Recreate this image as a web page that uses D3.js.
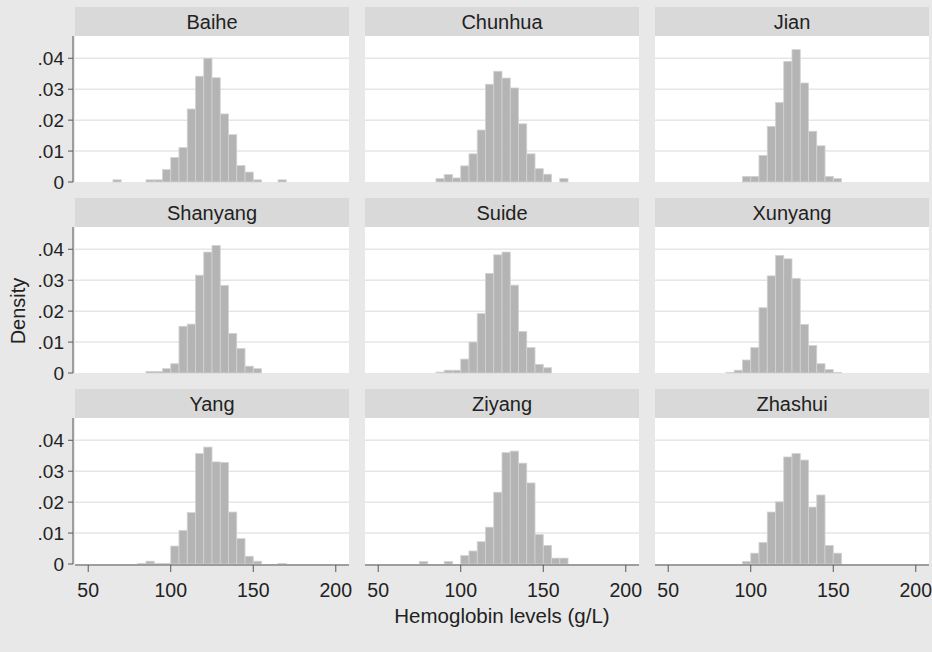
<!DOCTYPE html>
<html>
<head>
<meta charset="utf-8">
<script src="https://cdn.jsdelivr.net/npm/d3@7"></script>
<style>
  body { margin: 0; background: #e8e8e8; }
  text { font-family: "Liberation Sans", Arial, sans-serif; fill: #222; }
</style>
</head>
<body>
<script>
/* DATA */
var towns = ['Baihe', 'Chunhua', 'Jian', 'Shanyang', 'Suide', 'Xunyang', 'Yang', 'Ziyang', 'Zhashui'];
var binWidth = 5;
var binStarts = [65, 70, 75, 80, 85, 90, 95, 100, 105, 110, 115, 120, 125, 130, 135, 140, 145, 150, 155, 160, 165];

var baihe    = [.0007, 0, 0, 0, .0007, .0007, .0040, .0079, .0111, .0236, .0342, .0400, .0337, .0220, .0153, .0053, .0032, .0007, 0, 0, .0007];
var chunhua  = [0, 0, 0, 0, .0011, .0024, .0013, .0052, .0091, .0168, .0316, .0358, .0336, .0304, .0188, .0091, .0043, .0025, 0, .0011, 0];
var jian     = [0, 0, 0, 0, 0, 0, .0018, .0018, .0086, .0180, .0257, .0390, .0428, .0320, .0164, .0117, .0018, .0011, 0, 0, 0];
var shanyang = [0, 0, 0, 0, .0005, .0005, .0014, .0030, .0151, .0158, .0316, .0391, .0412, .0283, .0128, .0079, .0022, .0014, 0, 0, 0];
var suide    = [0, 0, 0, 0, .0003, .0009, .0009, .0045, .0100, .0192, .0322, .0382, .0391, .0284, .0134, .0082, .0028, .0017, 0, 0, 0];
var xunyang  = [0, 0, 0, 0, .0002, .0009, .0042, .0082, .0211, .0314, .0380, .0369, .0306, .0157, .0089, .0030, .0011, .0002, 0, 0, 0];
var yang     = [0, 0, 0, .0002, .0009, .0002, .0002, .0058, .0108, .0166, .0357, .0378, .0330, .0328, .0168, .0082, .0025, .0009, 0, 0, .0002];
var ziyang   = [0, 0, .0008, 0, 0, .0008, 0, .0027, .0042, .0072, .0119, .0232, .0360, .0365, .0326, .0262, .0095, .0060, .0019, .0019, 0];
var zhashui  = [0, 0, 0, 0, 0, 0, .0008, .0035, .0070, .0168, .0201, .0346, .0357, .0336, .0184, .0223, .0060, .0035, 0, 0, 0];
var densities = [baihe, chunhua, jian, shanyang, suide, xunyang, yang, ziyang, zhashui];

var xTicks = [50, 100, 150, 200];
var yTicks = [0, .01, .02, .03, .04];
var yTickLabels = ['0', '.01', '.02', '.03', '.04'];
var xTitle = 'Hemoglobin levels (g/L)';
var yTitle = 'Density';

/* LAYOUT */
var width = 932, height = 652;
var colLeft = [75, 365, 655];
var rowTop = [7, 198, 389];
var panelW = 274;
var stripH = 29;
var plotH = 146;

var bgColor = '#e8e8e8';
var stripColor = '#d9d9d9';
var barColor = '#b4b4b4';
var barStroke = '#d2d2d2';
var gridColor = '#e6e6e6';
var axisColor = '#555';

var x = d3.scaleLinear().domain([42, 208]).range([0, panelW]);
var y = d3.scaleLinear().domain([0, 0.0472]).range([plotH, 0]);

var svg = d3.select('body').append('svg')
    .attr('width', width)
    .attr('height', height);

svg.append('rect')
    .attr('width', width)
    .attr('height', height)
    .attr('fill', bgColor);

towns.forEach(function (town, i) {
    var col = i % 3, row = Math.floor(i / 3);
    var g = svg.append('g')
        .attr('transform', 'translate(' + colLeft[col] + ',' + rowTop[row] + ')');

    // strip
    g.append('rect')
        .attr('width', panelW)
        .attr('height', stripH)
        .attr('fill', stripColor);
    g.append('text')
        .attr('x', panelW / 2)
        .attr('y', stripH / 2 + 7)
        .attr('text-anchor', 'middle')
        .style('font-size', '20px')
        .text(town);

    var p = g.append('g').attr('transform', 'translate(0,' + stripH + ')');
    p.append('rect')
        .attr('width', panelW)
        .attr('height', plotH)
        .attr('fill', '#fff');

    // grid lines
    p.selectAll('.grid')
        .data(yTicks.slice(1))
        .enter().append('line')
        .attr('x1', 0).attr('x2', panelW)
        .attr('y1', function (d) { return y(d); })
        .attr('y2', function (d) { return y(d); })
        .attr('stroke', gridColor)
        .attr('stroke-width', 1.5);

    // bars
    var bins = binStarts.map(function (b, j) { return { x0: b, v: densities[i][j] }; })
        .filter(function (d) { return d.v > 0; });
    p.selectAll('.bar')
        .data(bins)
        .enter().append('rect')
        .attr('x', function (d) { return x(d.x0); })
        .attr('width', function (d) { return x(d.x0 + binWidth) - x(d.x0); })
        .attr('y', function (d) { return y(d.v); })
        .attr('height', function (d) { return plotH - y(d.v); })
        .attr('fill', barColor)
        .attr('stroke', barStroke)
        .attr('stroke-width', 0.8);

    // y axis on first column
    if (col === 0) {
        var ya = p.append('g').attr('transform', 'translate(-2,0)');
        ya.append('line')
            .attr('x1', 0).attr('x2', 0)
            .attr('y1', 0).attr('y2', plotH)
            .attr('stroke', axisColor);
        ya.selectAll('.yt')
            .data(yTicks)
            .enter().append('line')
            .attr('x1', -5).attr('x2', 0)
            .attr('y1', function (d) { return y(d); })
            .attr('y2', function (d) { return y(d); })
            .attr('stroke', axisColor);
        ya.selectAll('.yl')
            .data(yTicks)
            .enter().append('text')
            .attr('x', -9)
            .attr('y', function (d) { return y(d) + 7; })
            .attr('text-anchor', 'end')
            .style('font-size', '19px')
            .text(function (d, k) { return yTickLabels[k]; });
    }

    // x axis on bottom row
    if (row === 2) {
        var xa = p.append('g').attr('transform', 'translate(0,' + (plotH + 1) + ')');
        xa.append('line')
            .attr('x1', 0).attr('x2', panelW)
            .attr('stroke', axisColor);
        xa.selectAll('.xt')
            .data(xTicks)
            .enter().append('line')
            .attr('x1', function (d) { return x(d); })
            .attr('x2', function (d) { return x(d); })
            .attr('y1', 0).attr('y2', 7)
            .attr('stroke', axisColor);
        xa.selectAll('.xl')
            .data(xTicks)
            .enter().append('text')
            .attr('x', function (d) { return x(d); })
            .attr('y', 32)
            .attr('text-anchor', 'middle')
            .style('font-size', '19.5px')
            .text(function (d) { return d; });
    }
});

// axis titles
svg.append('text')
    .attr('x', 502)
    .attr('y', 623)
    .attr('text-anchor', 'middle')
    .style('font-size', '20.5px')
    .text(xTitle);

svg.append('text')
    .attr('transform', 'translate(25,311) rotate(-90)')
    .attr('text-anchor', 'middle')
    .style('font-size', '20px')
    .text(yTitle);
</script>
</body>
</html>
